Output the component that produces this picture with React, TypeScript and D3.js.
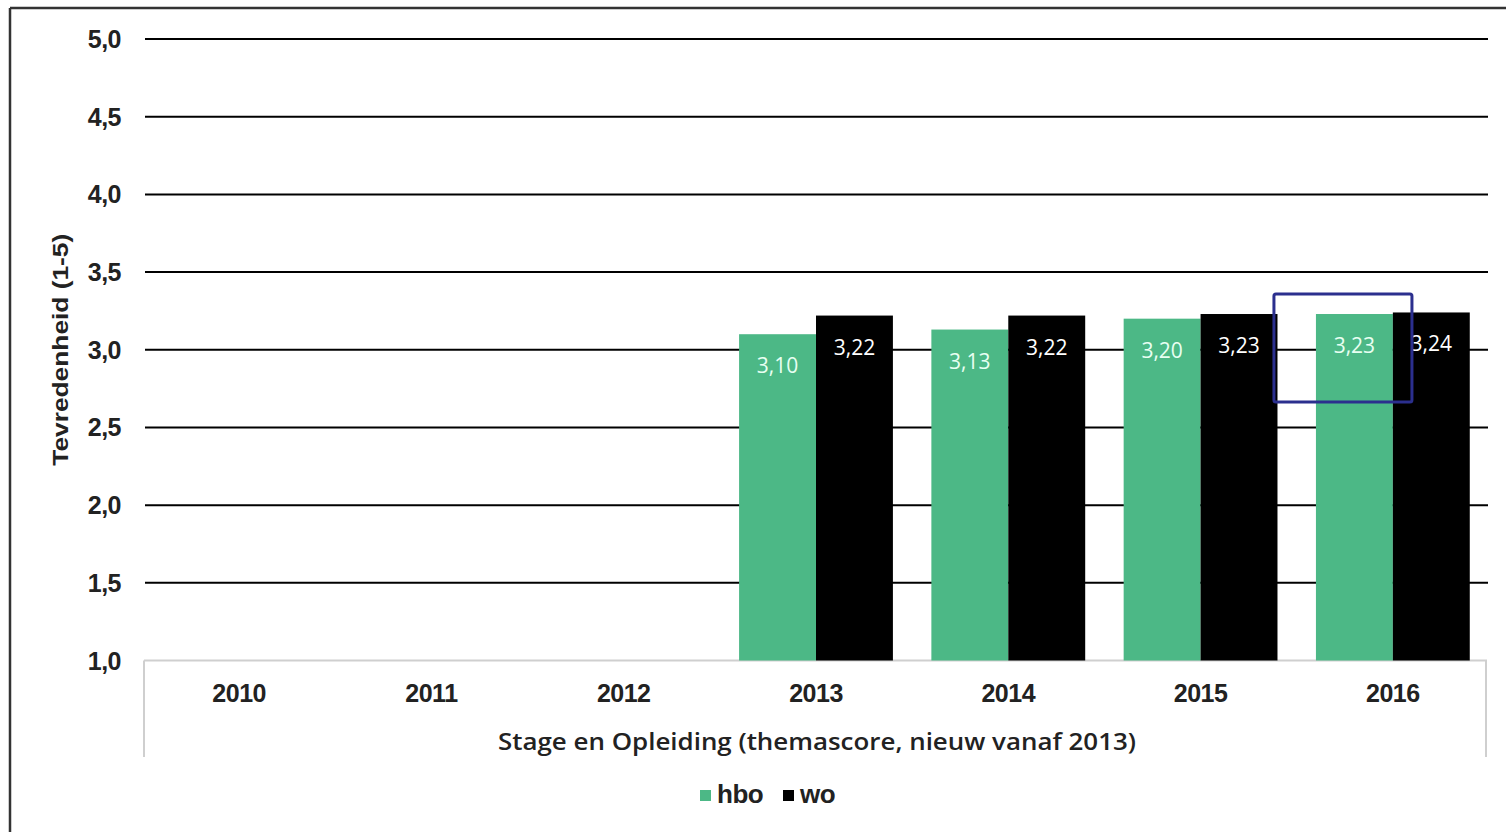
import React from 'react';
import * as d3 from 'd3';

const years = ['2010', '2011', '2012', '2013', '2014', '2015', '2016'];
const series = ['hbo', 'wo'];
const hboValues: (number | null)[] = [null, null, null, 3.10, 3.13, 3.20, 3.23];
const woValues: (number | null)[] = [null, null, null, 3.22, 3.22, 3.23, 3.24];
const yTicks = [1.0, 1.5, 2.0, 2.5, 3.0, 3.5, 4.0, 4.5, 5.0];
const colors: Record<string, string> = { hbo: '#4cb886', wo: '#000000' };
const highlight = { year: '2016', serie: 'hbo' };

const W = 1506, H = 832;
const left = 143, right = 1489, top = 39, bottom = 660.5;

const fmt = (v: number, d: number) => v.toFixed(d).replace('.', ',');

export default function App() {
  const x = d3.scaleBand<string>().domain(years).range([left, right]).paddingInner(0.2).paddingOuter(0.1);
  const xs = d3.scaleBand<string>().domain(series).range([0, x.bandwidth()]);
  const y = d3.scaleLinear().domain([1, 5]).range([bottom, top]);

  const rows = years.map((yr, i) => ({ yr, hbo: hboValues[i], wo: woValues[i] }));

  // highlight box around one bar (annotation in the original)
  const hx = (x(highlight.year) ?? 0) + (xs(highlight.serie) ?? 0);
  const hv = hboValues[years.indexOf(highlight.year)] ?? 0;

  return (
    <div style={{ position: 'absolute', left: 0, top: 0 }}>
      <svg width={W} height={H} style={{ display: 'block', background: '#fff' }}>
        {/* frame */}
        <line x1={10} x2={W} y1={8} y2={8} stroke="#333" strokeWidth={2.5} />
        <line x1={10} x2={10} y1={8} y2={H} stroke="#333" strokeWidth={2.5} />

        {/* gridlines + y ticks */}
        {yTicks.map(t => (
          <g key={t}>
            {t > 1 && <line x1={145} x2={1488} y1={y(t)} y2={y(t)} stroke="#000" strokeWidth={2} />}
            <text x={121} y={y(t)} dy="0.36em" textAnchor="end"
              fontFamily="Liberation Sans, Arial" fontWeight="bold" fontSize={25} fill="#222"
              letterSpacing={-0.5}>{fmt(t, 1)}</text>
          </g>
        ))}

        {/* category axis box */}
        <line x1={144} x2={1487} y1={bottom} y2={bottom} stroke="#cfcfcf" strokeWidth={2} />
        <line x1={144} x2={144} y1={bottom} y2={757} stroke="#cfcfcf" strokeWidth={2} />
        <line x1={1486} x2={1486} y1={bottom} y2={757} stroke="#cfcfcf" strokeWidth={2} />

        {years.map(yr => (
          <text key={yr} x={(x(yr) ?? 0) + x.bandwidth() / 2} y={702}
            textAnchor="middle" fontFamily="Liberation Sans, Arial" fontWeight="bold"
            fontSize={25} fill="#222" letterSpacing={-0.5}>{yr}</text>
        ))}

        <text x={817} y={750} textAnchor="middle" fontFamily="Open Sans, Noto Sans"
          fontWeight={600} fontSize={24} fill="#222" textLength={638} lengthAdjust="spacingAndGlyphs">
          Stage en Opleiding (themascore, nieuw vanaf 2013)
        </text>

        {/* bars */}
        {rows.map(r => (
          <g key={r.yr} transform={`translate(${x(r.yr)},0)`}>
            {series.map(s => {
              const v = (r as any)[s] as number | null;
              if (v == null) return null;
              const bx = xs(s) ?? 0;
              return (
                <g key={s}>
                  <rect x={bx} y={y(v)} width={xs.bandwidth()} height={bottom - y(v)} fill={colors[s]} />
                  <text x={bx + xs.bandwidth() / 2} y={y(v) + 39} textAnchor="middle"
                    fontFamily="Open Sans, Noto Sans" fontSize={21} fill={s === 'hbo' ? '#e8fff2' : '#fff'}>
                    {fmt(v, 2)}
                  </text>
                </g>
              );
            })}
          </g>
        ))}

        {/* highlight box */}
        <rect x={hx - 42} y={y(hv) - 20} width={138} height={108} rx={2}
          fill="none" stroke="#2b2f8e" strokeWidth={3} />

        {/* y title */}
        <text transform={`translate(68,${(top + bottom) / 2}) rotate(-90)`} textAnchor="middle"
          fontFamily="Liberation Sans, Arial" fontWeight="bold" fontSize={22} fill="#222"
          textLength={232} lengthAdjust="spacingAndGlyphs">Tevredenheid (1-5)</text>

        {/* legend */}
        {series.map((s, i) => {
          const lx = i === 0 ? 700 : 783;
          return (
            <g key={s} transform={`translate(${lx},790)`}>
              <rect x={0} y={0} width={11} height={11} fill={colors[s]} />
              <text x={17} y={13} fontFamily="Liberation Sans, Arial" fontWeight="bold"
                fontSize={26} fill="#222" letterSpacing={-0.5}>{s}</text>
            </g>
          );
        })}
      </svg>
    </div>
  );
}
